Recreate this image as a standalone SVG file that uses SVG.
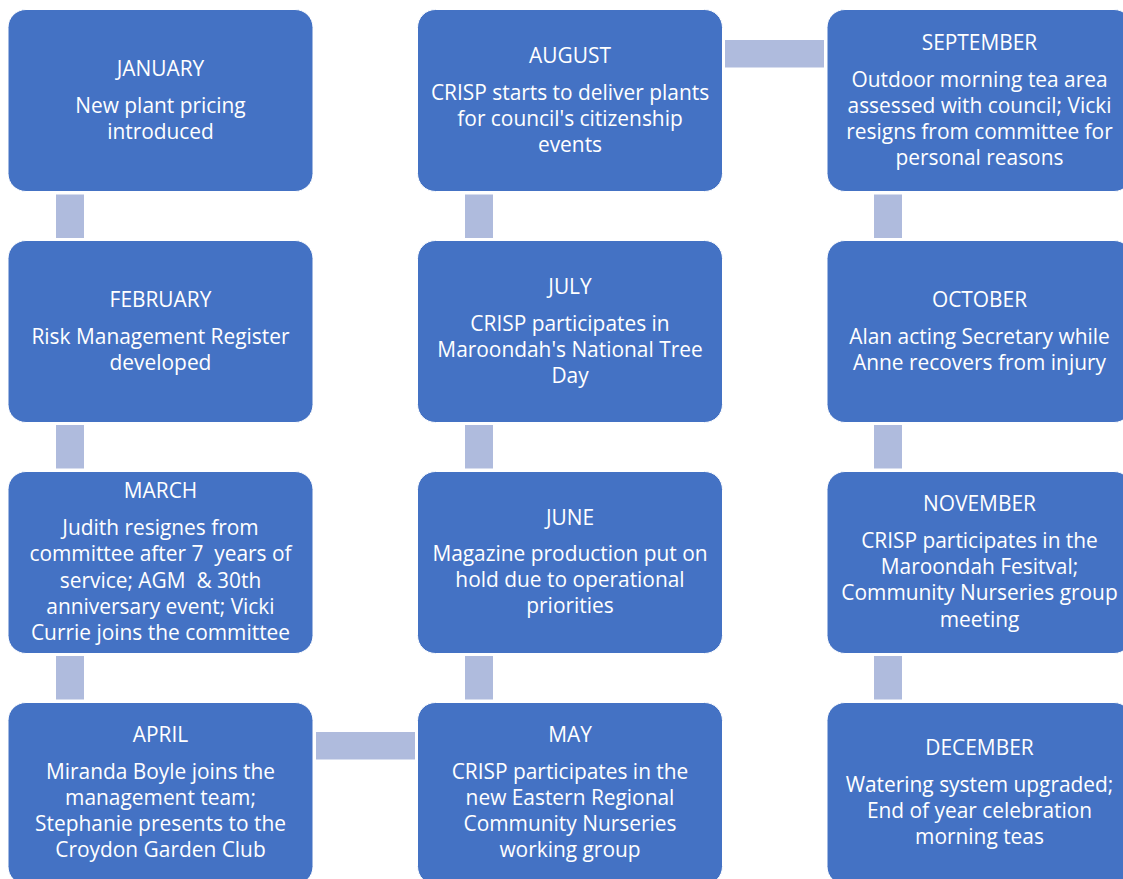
<svg xmlns="http://www.w3.org/2000/svg" width="1123" height="879" viewBox="0 0 1123 879">
<style>
.box{fill:#4472C4;stroke:#ffffff;stroke-width:1}
.con{fill:#AFBBDD}
text{font-family:"Open Sans","Liberation Sans",sans-serif;font-size:20.9px;fill:#ffffff;text-anchor:middle}
</style>
<rect width="1123" height="879" fill="#ffffff"/>
<g id="connectors">
<rect class="con" x="56" y="194.5" width="28" height="43.5"/>
<rect class="con" x="56" y="425" width="28" height="43.5"/>
<rect class="con" x="56" y="656" width="28" height="43.5"/>
<rect class="con" x="316" y="732" width="99" height="27.5"/>
<rect class="con" x="465" y="656" width="28" height="43.5"/>
<rect class="con" x="465" y="425" width="28" height="43.5"/>
<rect class="con" x="465" y="194.5" width="28" height="43.5"/>
<rect class="con" x="725" y="40" width="99" height="27.5"/>
<rect class="con" x="874" y="194.5" width="28" height="43.5"/>
<rect class="con" x="874" y="425" width="28" height="43.5"/>
<rect class="con" x="874" y="656" width="28" height="43.5"/>
</g>
<g id="january">
<rect class="box" x="8" y="9.5" width="305" height="182" rx="18"/>
<text x="160.5" y="76">JANUARY</text>
<text x="160.5" y="113">New plant pricing</text>
<text x="160.5" y="139">introduced</text>
</g>
<g id="february">
<rect class="box" x="8" y="240.5" width="305" height="182" rx="18"/>
<text x="160.5" y="307">FEBRUARY</text>
<text x="160.5" y="344">Risk Management Register</text>
<text x="160.5" y="370">developed</text>
</g>
<g id="march">
<rect class="box" x="8" y="471.5" width="305" height="182" rx="18"/>
<text x="160.5" y="498">MARCH</text>
<text x="160.5" y="535">Judith resignes from</text>
<text x="160.5" y="561.3" xml:space="preserve">committee after 7  years of</text>
<text x="160.5" y="587.6" xml:space="preserve">service; AGM  &amp; 30th</text>
<text x="160.5" y="614">anniversary event; Vicki</text>
<text x="160.5" y="640">Currie joins the committee</text>
</g>
<g id="april">
<rect class="box" x="8" y="702.5" width="305" height="182" rx="18"/>
<text x="160.5" y="742">APRIL</text>
<text x="160.5" y="778.5">Miranda Boyle joins the</text>
<text x="160.5" y="805">management team;</text>
<text x="160.5" y="831">Stephanie presents to the</text>
<text x="160.5" y="857">Croydon Garden Club</text>
</g>
<g id="may">
<rect class="box" x="417.5" y="702.5" width="305" height="182" rx="18"/>
<text x="570" y="742">MAY</text>
<text x="570" y="779">CRISP participates in the</text>
<text x="570" y="805">new Eastern Regional</text>
<text x="570" y="831">Community Nurseries</text>
<text x="570" y="857">working group</text>
</g>
<g id="june">
<rect class="box" x="417.5" y="471.5" width="305" height="182" rx="18"/>
<text x="570" y="525">JUNE</text>
<text x="570" y="561">Magazine production put on</text>
<text x="570" y="587">hold due to operational</text>
<text x="570" y="613">priorities</text>
</g>
<g id="july">
<rect class="box" x="417.5" y="240.5" width="305" height="182" rx="18"/>
<text x="570" y="294">JULY</text>
<text x="570" y="331">CRISP participates in</text>
<text x="570" y="357">Maroondah's National Tree</text>
<text x="570" y="383">Day</text>
</g>
<g id="august">
<rect class="box" x="417.5" y="9.5" width="305" height="182" rx="18"/>
<text x="570" y="63">AUGUST</text>
<text x="570" y="100">CRISP starts to deliver plants</text>
<text x="570" y="126">for council's citizenship</text>
<text x="570" y="152">events</text>
</g>
<g id="september">
<rect class="box" x="827" y="9.5" width="305" height="182" rx="18"/>
<text x="979.5" y="50">SEPTEMBER</text>
<text x="979.5" y="87">Outdoor morning tea area</text>
<text x="979.5" y="113">assessed with council; Vicki</text>
<text x="979.5" y="139">resigns from committee for</text>
<text x="979.5" y="165">personal reasons</text>
</g>
<g id="october">
<rect class="box" x="827" y="240.5" width="305" height="182" rx="18"/>
<text x="979.5" y="307">OCTOBER</text>
<text x="979.5" y="344">Alan acting Secretary while</text>
<text x="979.5" y="370">Anne recovers from injury</text>
</g>
<g id="november">
<rect class="box" x="827" y="471.5" width="305" height="182" rx="18"/>
<text x="979.5" y="511">NOVEMBER</text>
<text x="979.5" y="548">CRISP participates in the</text>
<text x="979.5" y="574">Maroondah Fesitval;</text>
<text x="979.5" y="600">Community Nurseries group</text>
<text x="979.5" y="626.5">meeting</text>
</g>
<g id="december">
<rect class="box" x="827" y="702.5" width="305" height="182" rx="18"/>
<text x="979.5" y="755">DECEMBER</text>
<text x="979.5" y="792">Watering system upgraded;</text>
<text x="979.5" y="818">End of year celebration</text>
<text x="979.5" y="844">morning teas</text>
</g>
</svg>
